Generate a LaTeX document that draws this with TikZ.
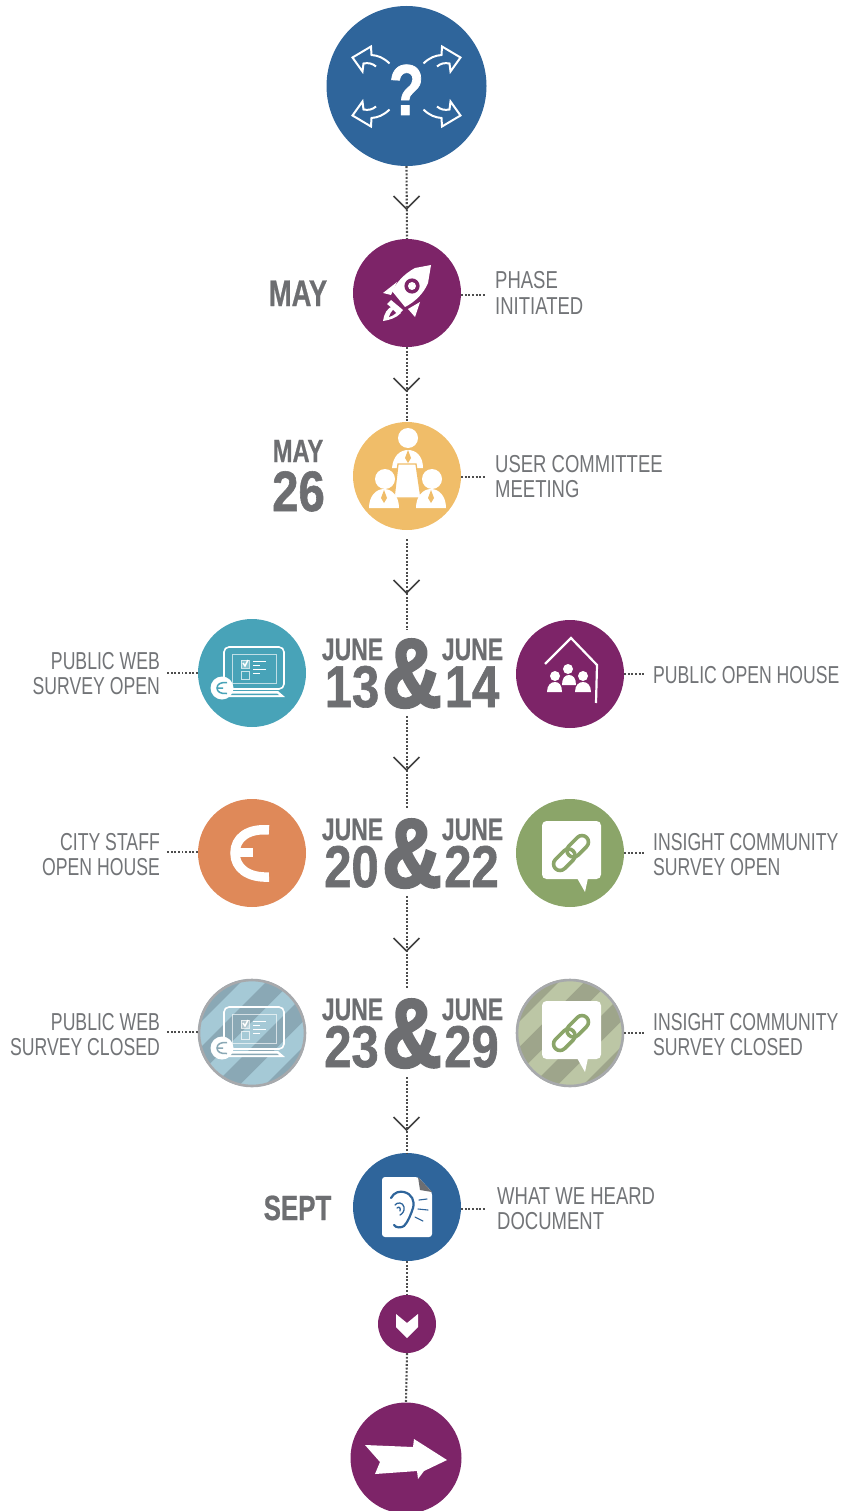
\documentclass[tikz,border=0pt]{standalone}
\usepackage{fontspec}
\newfontfamily\labf[FakeStretch=0.72]{Liberation Sans}
\newfontfamily\labw[FakeStretch=0.755]{Liberation Sans}
\newfontfamily\bolf[FakeStretch=0.74,FakeBold=0.6]{Liberation Sans Bold}
\newfontfamily\numf[FakeStretch=0.83,FakeBold=1]{Liberation Sans Bold}
\newfontfamily\ampf[FakeStretch=0.84,FakeBold=2.5]{Liberation Sans Bold}
\newfontfamily\qf[FakeStretch=0.8,FakeBold=1]{Liberation Sans Bold}
\definecolor{cblue}{HTML}{2F659B}
\definecolor{cpurple}{HTML}{7D2468}
\definecolor{cyellow}{HTML}{F0BD69}
\definecolor{cteal}{HTML}{48A3B8}
\definecolor{corange}{HTML}{DF8959}
\definecolor{cgreen}{HTML}{8BA569}
\definecolor{txt}{HTML}{6D6E71}
\definecolor{ltxt}{HTML}{727477}
\definecolor{hblueA}{HTML}{A5C9D6}
\definecolor{hblueB}{HTML}{8AA8B5}
\definecolor{hgreenA}{HTML}{BCC6A5}
\definecolor{hgreenB}{HTML}{9EA58B}
\definecolor{ringg}{HTML}{A7A9AC}
\definecolor{dotc}{HTML}{4D4D4D}
\usetikzlibrary{calc}
\newcommand{\lapc}{cteal}
\tikzset{
  x=1pt,y=-1pt,
  disc/.style={circle,draw=none,inner sep=0,minimum size=108pt},
  dots/.style={draw=dotc,line width=2.1pt,dash pattern=on 1.9pt off 1.7pt},
  lblw/.style={font=\labf\fontsize{24.5}{25}\selectfont,text=ltxt,inner sep=0,anchor=base west,align=left},
  lblv/.style={font=\labw\fontsize{24.5}{25}\selectfont,text=ltxt,inner sep=0,anchor=base west,align=left},
  lble/.style={font=\labf\fontsize{24.5}{25}\selectfont,text=ltxt,inner sep=0,anchor=base east,align=right},
  mon/.style={font=\bolf\fontsize{37}{37}\selectfont,text=txt,inner sep=0,anchor=base},
  mons/.style={font=\bolf\fontsize{32}{32}\selectfont,text=txt,inner sep=0,anchor=base},
  jun/.style={font=\bolf\fontsize{31}{31}\selectfont,text=txt,inner sep=0,anchor=base},
  num/.style={font=\numf\fontsize{59}{59}\selectfont,text=txt,inner sep=0,anchor=base},
  amp/.style={font=\ampf\fontsize{98}{98}\selectfont,text=txt,inner sep=0,anchor=base},
  chev/.pic={\draw[draw=dotc!85!black,line width=1.5pt,miter limit=4] (-13,-13)--(0,0)--(13,-13);},
  laptop/.pic={
    \draw[white,line width=1.6pt,rounded corners=5pt] (-28,-26) rectangle (32,16);
    \draw[white,line width=.7pt,opacity=.65] (-20,-19) rectangle (24,10);
    \draw[white,line width=1pt,opacity=.7] (-11,-13) rectangle (-3,-5);
    \fill[white,opacity=.35] (-11,-13) rectangle (-3,-5);
    \draw[white,line width=1.4pt] (-9,-10)--(-7,-7)--(-4,-13);
    \draw[white,line width=1pt,opacity=.7] (-11,-2) rectangle (-3,6);
    \draw[white,line width=.8pt] (1,-12)--(14,-12) (1,-8)--(8,-8) (1,-4)--(14,-4) (1,0)--(8,0);
    \fill[white] (-32,18)--(26,18)--(33,24)--(-32,24)--cycle;
    \fill[\lapc] (-27,20.5)--(25,20.5)--(27,22)--(-27,22)--cycle;
    \fill[white] (-30,15) circle (11.5);
    \draw[\lapc,line width=1.5pt] (-25,9.5) .. controls (-31,9) and (-35,11) .. (-35,15) .. controls (-35,19) and (-31,21) .. (-25,20.5) (-35,15)--(-29,15);
  },
  bubble/.pic={
    \fill[white,rounded corners=4.5pt] (-29,-32) rectangle (30,26);
    \fill[white] (6,25)--(14,39)--(17,25)--cycle;
    \begin{scope}[rotate=45,line width=3.6pt]
      \draw[cgreen,rounded corners=6.5pt] (-22,-6.5) rectangle (3,6.5);
      \draw[cgreen,rounded corners=6.5pt] (-3,-6.5) rectangle (22,6.5);
    \end{scope}
  },
}
\newcommand{\hatchdisc}[3]{%
  \begin{scope}
    \clip (#1) circle (54);
    \fill[#2] (#1) circle (54);
    \foreach \s in {-3,-2,-1,0,1,2} {
      \fill[#3,shift={(#1)}] ($(-45:-90)+(45:\s*36)+(45:10)$) -- ($(-45:90)+(45:\s*36)+(45:10)$) -- ($(-45:90)+(45:\s*36+18)+(45:10)$) -- ($(-45:-90)+(45:\s*36+18)+(45:10)$) -- cycle;
    }
  \end{scope}
  \draw[ringg,line width=2.6pt] (#1) circle (53);
}
\begin{document}
\begin{tikzpicture}
\clip (0,0) rectangle (861,1511);

% ---- main discs
\node[disc,fill=cblue,minimum size=160pt] (top) at (406.5,86) {};
\node[disc,fill=cpurple] (rocket) at (407,293) {};
\node[disc,fill=cyellow] (comm) at (407,476) {};
\node[disc,fill=cteal] (web) at (252,673) {};
\node[disc,fill=cpurple] (house) at (570,674) {};
\node[disc,fill=corange] (euro) at (252,853) {};
\node[disc,fill=cgreen] (insight) at (570,853) {};
\node[disc] (webc) at (252,1033) {};
\node[disc] (insc) at (570,1033) {};
\node[disc,fill=cblue] (doc) at (407,1207) {};
\node[disc,fill=cpurple,minimum size=58pt] (small) at (407,1324) {};
\node[disc,fill=cpurple,minimum size=111pt] (final) at (406,1458) {};

\hatchdisc{252,1033}{hblueA}{hblueB}
\hatchdisc{570,1033}{hgreenA}{hgreenB}

% ---- free ends of connectors
\coordinate (r1a) at (407,630);
\coordinate (r1b) at (407,716);
\coordinate (r2a) at (407,808);
\coordinate (r2b) at (407,896);
\coordinate (r3a) at (407,988);
\coordinate (r3b) at (407,1077);
\coordinate (e1) at (486,295);
\coordinate (e2) at (486,477);
\coordinate (e3) at (166,673);
\coordinate (e4) at (644,674);
\coordinate (e5) at (166,852);
\coordinate (e6) at (644,853);
\coordinate (e7) at (166,1032);
\coordinate (e8) at (644,1033);
\coordinate (e9) at (486,1209);

% ---- connectors
\draw[dots] (top.south) -- (rocket.north);
\draw[dots] (rocket.south) -- (comm.north);
\draw[dots,shorten <=9pt] (comm.south) -- (r1a);
\draw[dots] (r1b) -- (r2a);
\draw[dots] (r2b) -- (r3a);
\draw[dots] (r3b) -- (doc.north);
\draw[dots] (doc.south) -- (small.north);
\draw[dots] (small.south) -- (final.north);
\draw[dots] (rocket.east |- e1) -- (e1);
\draw[dots] (comm.east |- e2) -- (e2);
\draw[dots] (web.west) -- (e3);
\draw[dots] (house.east) -- (e4);
\draw[dots] (euro.west |- e5) -- (e5);
\draw[dots] (insight.east) -- (e6);
\draw[dots] (webc.west |- e7) -- (e7);
\draw[dots] (insc.east) -- (e8);
\draw[dots] (doc.east |- e9) -- (e9);

% ---- chevrons
\pic at (406.5,209) {chev};
\pic at (406.5,391) {chev};
\pic at (406.5,593) {chev};
\pic at (406.5,770) {chev};
\pic at (406.5,951) {chev};
\pic at (406.5,1130) {chev};

% ---- top icon
\node[font=\qf\fontsize{72}{72}\selectfont,text=white,inner sep=0,anchor=base] (qmark) at (406.5,115) {?};
\foreach \sx/\sy in {1/1,-1/1,1/-1,-1/-1} {
  \draw[white,line width=2pt,line join=miter,shift={(406.5,86.5)},xscale=\sx,yscale=\sy]
    (-17,-23) .. controls (-23,-29) and (-29,-31) .. (-35,-31.5) -- (-35.5,-40) -- (-54,-29) -- (-44,-15) -- (-43,-23) .. controls (-38,-24) and (-34,-23) .. (-30.5,-20);
}

% ---- rocket
\fill[white] (431,265) -- (415,268) .. controls (404,274) and (397,282) .. (392,291) -- (405,307) .. controls (415,302) and (424,293) .. (428,283) -- cycle;
\fill[cpurple] (412,286) circle (7.6);
\fill[white] (412,286) circle (4);
\fill[white] (383,293) -- (397,282) -- (391,295) -- cycle;
\fill[white] (408,309) -- (420,302) -- (415,317) -- cycle;
\fill[white] (391,300) -- (403,310) -- (399,314) -- (387,304) -- cycle;
\fill[white] (383,321) .. controls (384,314) and (387,308) .. (393,306) -- (401,313) .. controls (396,318) and (390,320) .. (383,321) -- cycle;
\fill[cpurple] (389,317) .. controls (390,314) and (391,312) .. (393,310) -- (396,313) .. controls (394,315) and (392,316) .. (389,317) -- cycle;

% ---- committee
\fill[white] (408,438) circle (10);
\fill[white] (392,468) .. controls (393,456) and (400,450) .. (408,450) .. controls (416,450) and (423,456) .. (423,468) -- cycle;
\fill[cyellow] (408,450) -- (411,458) -- (408,463) -- (405,458) -- cycle;
\fill[white,draw=cyellow,line width=1.3pt] (398,464) -- (416,464) -- (421,498) -- (394,498) -- cycle;
\fill[white] (385,479) circle (10);
\fill[white] (432,479) circle (10);
\fill[white] (369,508) .. controls (369,496) and (376,489) .. (384,489) .. controls (392,489) and (399,496) .. (399,508) -- cycle;
\fill[white] (416,508) .. controls (416,496) and (423,489) .. (431,489) .. controls (439,489) and (446,496) .. (446,508) -- cycle;
\fill[cyellow] (384,490) -- (387,498) -- (384,503) -- (381,498) -- cycle;
\fill[cyellow] (431,490) -- (434,498) -- (431,503) -- (428,498) -- cycle;

% ---- laptops and bubbles
\renewcommand{\lapc}{cteal}
\pic at (252,673) {laptop};
\renewcommand{\lapc}{hblueB}
\pic at (252,1033) {laptop};
\pic at (571,853) {bubble};
\pic at (571,1033) {bubble};

% ---- house
\draw[white,line width=2.2pt,line join=miter] (545,664) -- (571,638) -- (597,665) -- (596,703);
\foreach \cx/\cy in {568/669,555/676,583/676} {\fill[white] (\cx,\cy) circle (5);}
\fill[white] (547,692) .. controls (547,685) and (551,682) .. (555,682) .. controls (559,682) and (562,685) .. (562,692) -- cycle;
\fill[white] (575,692) .. controls (575,685) and (579,682) .. (583,682) .. controls (587,682) and (591,685) .. (591,692) -- cycle;
\fill[white] (562,685) .. controls (562,678) and (565,675) .. (569,675) .. controls (573,675) and (576,678) .. (576,685) -- cycle;

% ---- euro
\draw[white,line width=9.5pt] (269,830) .. controls (248,828) and (235,838) .. (235,853) .. controls (235,868) and (248,878) .. (269,877);
\fill[white] (236,848) rectangle (253,857);

% ---- document
\fill[white,rounded corners=3pt] (382,1177) -- (418,1177) -- (432,1192) -- (432,1237) -- (382,1237) -- cycle;
\fill[txt] (418,1177) -- (432,1192) -- (420,1190) -- cycle;
\begin{scope}[cblue,line cap=round,fill=none]
\draw[line width=2.2pt] (391,1198) .. controls (394,1192) and (400,1191) .. (404,1192) .. controls (412,1194) and (415,1201) .. (413,1208) .. controls (411,1214) and (408,1222) .. (404,1226) .. controls (401,1228) and (396,1228) .. (394,1225);
\draw[line width=1.3pt] (395,1205) .. controls (397,1202) and (403,1202) .. (404,1207) .. controls (405,1211) and (402,1214) .. (400,1215) (397,1208) .. controls (399,1206) and (401,1208) .. (400,1211);
\draw[line width=1.1pt] (419,1200) -- (427,1199) (418,1209) -- (428,1210) (415,1217) -- (423,1221);
\end{scope}

% ---- small chevron and big arrow
\fill[white] (396,1314) -- (407,1323) -- (418,1314) -- (418,1327) -- (407,1338) -- (396,1327) -- cycle;
\fill[white] (365,1445) -- (413,1447) -- (414,1439) -- (447,1460) -- (424,1471) -- (418,1479) -- (417,1471) -- (375,1474) -- (380,1462) -- cycle;

% ---- dates
\node[mon] (lmay) at (298,306) {MAY};
\node[mons] (lmay2) at (298,462) {MAY};
\node[font=\numf\fontsize{57}{57}\selectfont,text=txt,inner sep=0,anchor=base] (l26) at (298.5,511) {26};
\node[mon,font=\bolf\fontsize{35}{35}\selectfont] (lsept) at (297.5,1220) {SEPT};

\node[jun] (j1a) at (352.5,660) {JUNE};
\node[jun] (j1b) at (472.5,660) {JUNE};
\node[amp] (a1) at (412,707) {\&};
\node[num] (n13) at (352,707) {13};
\node[num] (n14) at (472,707) {14};

\node[jun] (j2a) at (352.5,840) {JUNE};
\node[jun] (j2b) at (472.5,840) {JUNE};
\node[amp] (a2) at (412,887) {\&};
\node[num] (n20) at (351.5,887) {20};
\node[num] (n22) at (471.5,887) {22};

\node[jun] (j3a) at (352.5,1020) {JUNE};
\node[jun] (j3b) at (472.5,1020) {JUNE};
\node[amp] (a3) at (412,1067) {\&};
\node[num] (n23) at (351.5,1067) {23};
\node[num] (n29) at (471.5,1067) {29};

% ---- labels (a two-line node's base is its last line)
\node[lblv] (t1) at (495,314) {PHASE\\INITIATED};
\node[lblv] (t2) at (495,497) {USER COMMITTEE\\MEETING};
\node[lble] (t3) at (160,694) {PUBLIC WEB\\SURVEY OPEN};
\node[lblw] (t4) at (653,683) {PUBLIC OPEN HOUSE};
\node[lble] (t5) at (160,875) {CITY STAFF\\OPEN HOUSE};
\node[lblw] (t6) at (653,875) {INSIGHT COMMUNITY\\SURVEY OPEN};
\node[lble] (t7) at (160,1055) {PUBLIC WEB\\SURVEY CLOSED};
\node[lblw] (t8) at (653,1055) {INSIGHT COMMUNITY\\SURVEY CLOSED};
\node[lblv] (t9) at (497,1229) {WHAT WE HEARD\\DOCUMENT};
\end{tikzpicture}
\end{document}
